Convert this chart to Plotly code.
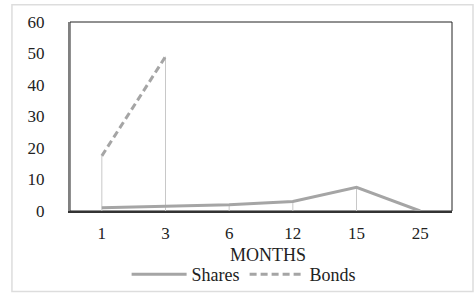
import plotly.graph_objects as go

months = ["1", "3", "6", "12", "15", "25"]
shares = [1, 1.5, 2, 3, 7.5, 0]
bonds = [17.5, 49, None, None, None, None]
y_ticks = [0, 10, 20, 30, 40, 50, 60]
x_title = "MONTHS"

font_family = "Liberation Serif"

# drop lines: from axis up to highest value at each category
drop_x, drop_y = [], []
for i, m in enumerate(months):
    vals = [v for v in (shares[i], bonds[i]) if v is not None]
    top = max(vals)
    if top > 0:
        drop_x += [m, m, None]
        drop_y += [0, top, None]

fig = go.Figure()
fig.add_trace(go.Scatter(x=drop_x, y=drop_y, mode="lines",
                         line=dict(color="#C8C8C8", width=1),
                         showlegend=False, hoverinfo="skip"))
fig.add_trace(go.Scatter(x=months, y=shares, mode="lines", name="Shares",
                         line=dict(color="#A5A5A5", width=3)))
fig.add_trace(go.Scatter(x=months, y=bonds, mode="lines", name="Bonds",
                         line=dict(color="#A5A5A5", width=3, dash="7px,4px")))

fig.update_layout(
    width=474, height=293,
    margin=dict(l=70, r=22, t=22, b=82, autoexpand=False),
    paper_bgcolor="white", plot_bgcolor="white",
    font=dict(family=font_family, size=17, color="#222222"),
    xaxis=dict(type="category", range=[-0.5, 5.5], showgrid=False,
               showline=True, linecolor="#333333", linewidth=1.5, ticks="",
               automargin=False, ticklabelstandoff=6,
               tickfont=dict(size=17)),
    yaxis=dict(range=[0, 60], tickvals=y_ticks, showgrid=False,
               showline=True, linecolor="#808080", linewidth=2, ticks="",
               automargin=False,
               zeroline=False, ticklabelstandoff=20, tickfont=dict(size=17)),
    legend=dict(orientation="h", x=0.515, xref="container", xanchor="center",
                y=-0.025, yref="container", yanchor="bottom",
                itemwidth=55, font=dict(size=18),
                bgcolor="rgba(0,0,0,0)"),
    showlegend=True,
    annotations=[
        dict(text=x_title, xref="paper", yref="paper", x=0.518, y=-0.233,
             xanchor="center", yanchor="middle", showarrow=False,
             font=dict(size=18, family=font_family, color="#222222")),
    ],
    shapes=[
        dict(type="rect", xref="paper", yref="paper", x0=0, x1=1, y0=0, y1=1,
             line=dict(color="#222222", width=1), layer="below"),
        dict(type="rect", xref="paper", yref="paper", x0=-0.152, x1=1.055,
             y0=-0.426, y1=1.0915, line=dict(color="#DDDDDD", width=1.5),
             layer="below"),
    ],
)

fig.write_html("out.html", config={"displayModeBar": False},
               post_script="document.body.style.margin='0';"
                           "document.body.style.overflow='hidden';")
